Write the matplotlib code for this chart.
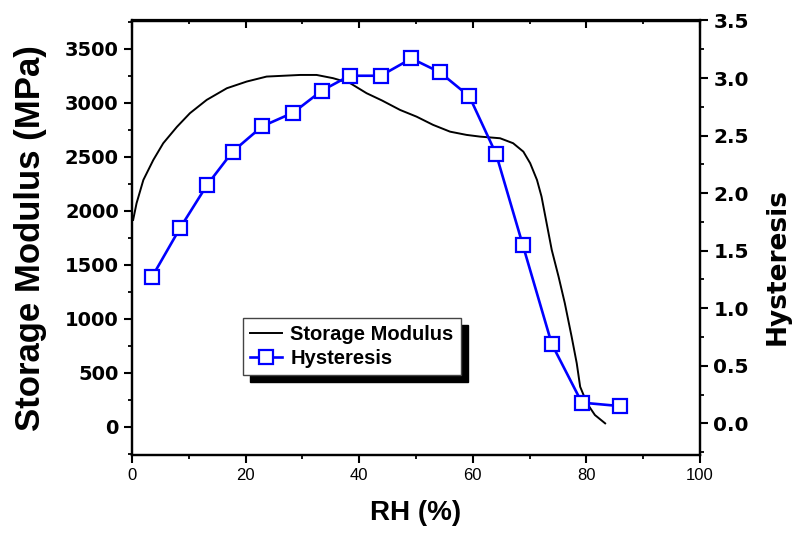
import matplotlib
matplotlib.use("Agg")
import matplotlib.pyplot as plt
from matplotlib.ticker import MultipleLocator

# storage modulus curve
sm_rh = [0.2, 0.8, 2.0, 3.75, 5.5, 7.9, 10.2, 13.15, 16.7, 20.2, 23.7, 29.6, 32.5,
         35.4, 38.4, 41.3, 44.0, 47.2, 50.1, 53.0, 56.0, 58.9, 61.3, 64.8, 67.1,
         68.9, 70.1, 71.3, 72.1, 73.0, 73.9, 75.1, 76.2, 77.4, 78.3, 78.9, 80.1,
         81.5, 83.3]
sm_mpa = [1914, 2068, 2284, 2469, 2624, 2775, 2902, 3025, 3133, 3195, 3241, 3256, 3256,
          3226, 3180, 3087, 3020, 2932, 2870, 2794, 2731, 2701, 2685, 2670, 2624,
          2546, 2439, 2284, 2130, 1883, 1636, 1389, 1143, 833, 587, 370, 217,
          108, 31]

# hysteresis points
h_rh = [3.5, 8.5, 13.2, 17.7, 22.9, 28.4, 33.4, 38.3, 43.8, 49.2, 54.2, 59.4,
        64.1, 68.8, 73.9, 79.2, 85.9]
hyst = [1.27, 1.70, 2.07, 2.36, 2.58, 2.70, 2.89, 3.02, 3.02, 3.17, 3.05, 2.84,
        2.34, 1.55, 0.69, 0.18, 0.15]

bold_font = "Liberation Sans"

fig = plt.figure(figsize=(7.96, 5.39), dpi=100)
ax = fig.add_axes([132 / 796, 1 - 455 / 539, 568 / 796, 434.5 / 539])
ax2 = ax.twinx()

l1, = ax.plot(sm_rh, sm_mpa, color="black", lw=1.4, label="Storage Modulus")
l2, = ax2.plot(h_rh, hyst, color="#0000ff", lw=1.9, marker="s", ms=10.5,
               mfc="white", mec="#0000ff", mew=1.6, label="Hysteresis")

ax.set_xlim(0, 100)
ax.set_ylim(-262, 3760)
ax2.set_ylim(-0.275, 3.5)

ax.xaxis.set_major_locator(MultipleLocator(20))
ax.xaxis.set_minor_locator(MultipleLocator(10))
ax.yaxis.set_major_locator(MultipleLocator(500))
ax.yaxis.set_minor_locator(MultipleLocator(250))
ax2.yaxis.set_major_locator(MultipleLocator(0.5))
ax2.yaxis.set_minor_locator(MultipleLocator(0.25))
ax2.yaxis.set_major_formatter(plt.FormatStrFormatter("%.1f"))

for a in (ax, ax2):
    for s in a.spines.values():
        s.set_linewidth(1.6)

ax.tick_params(axis="both", which="major", direction="out", length=6, width=1.5)
ax.tick_params(axis="both", which="minor", direction="out", length=3, width=1.3)
ax2.tick_params(axis="y", which="major", direction="out", length=6, width=1.5)
ax2.tick_params(axis="y", which="minor", direction="out", length=3, width=1.3)

# top ticks point inward
top = ax.secondary_xaxis("top")
top.xaxis.set_major_locator(MultipleLocator(20))
top.xaxis.set_minor_locator(MultipleLocator(10))
top.tick_params(which="major", direction="in", length=6, width=1.5, labeltop=False)
top.tick_params(which="minor", direction="in", length=3, width=1.3)
top.spines["top"].set_linewidth(1.6)

for lab in ax.get_xticklabels():
    lab.set_fontfamily("Liberation Sans")
    lab.set_fontsize(12)
for lab in ax.get_yticklabels():
    lab.set_fontfamily("DejaVu Sans")
    lab.set_fontweight("bold")
    lab.set_fontsize(14)
for lab in ax2.get_yticklabels():
    lab.set_fontfamily("DejaVu Sans")
    lab.set_fontweight("bold")
    lab.set_fontsize(14.5)

ax.set_xlabel("RH (%)", fontfamily=bold_font, fontweight="bold", fontsize=20, labelpad=12)
ax.set_ylabel("Storage Modulus (MPa)", fontfamily=bold_font, fontweight="bold",
              fontsize=25, labelpad=13)
ax2.set_ylabel("Hysteresis", fontfamily="DejaVu Sans", fontweight="bold", fontsize=19)
ax2.yaxis.set_label_coords(1.113, 0.433)

leg = ax2.legend(handles=[l1, l2], loc="upper left",
                 bbox_to_anchor=(243 / 796, 1 - 318 / 539),
                 bbox_transform=fig.transFigure, borderaxespad=0,
                 prop={"family": bold_font, "weight": "bold", "size": 14.5},
                 handlelength=1.6, handletextpad=0.4, borderpad=0.35,
                 labelspacing=0.25, fancybox=False, framealpha=1,
                 shadow={"ox": 5, "oy": -5, "facecolor": "black", "edgecolor": "black", "alpha": 1})
leg.get_frame().set_edgecolor("#444444")
leg.get_frame().set_linewidth(1.0)

fig.savefig("out.png", dpi=100)
